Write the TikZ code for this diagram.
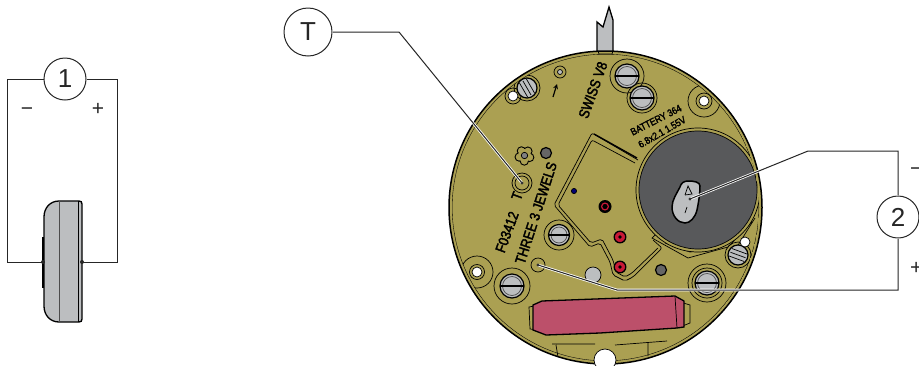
\documentclass[tikz,border=0pt]{standalone}
\usepackage{fontspec}
\setmainfont{Liberation Sans}
\newfontfamily\engravefont[FakeStretch=0.86,FakeBold=2.5]{Liberation Sans}
\definecolor{plateolive}{RGB}{171,160,82}
\definecolor{cellgray}{RGB}{188,190,192}
\definecolor{batterygray}{RGB}{88,89,91}
\definecolor{coilred}{RGB}{188,80,106}
\definecolor{rubyred}{RGB}{200,25,55}
\begin{document}
\begin{tikzpicture}[x=1pt,y=-1pt]

%
% Styles
%
\tikzstyle{callout}  = [circle,draw=black!85,fill=white,line width=1pt,minimum size=42pt,inner sep=0pt,text=black!85,font=\fontsize{26}{26}\selectfont]
\tikzstyle{wire}     = [draw=black!85,line width=1pt]
\tikzstyle{leader}   = [preaction={draw=white,line width=2.6pt},draw=black!85,line width=1pt]
\tikzstyle{sign}     = [inner sep=0pt,font=\fontsize{21}{21}\selectfont,text=black!85]
\tikzstyle{engraved} = [inner sep=0pt,font=\engravefont\fontsize{14.5}{14.5}\selectfont,text=black]
\tikzstyle{tinytext} = [inner sep=0pt,font=\engravefont\fontsize{10}{10}\selectfont,text=black]
\tikzstyle{contour}  = [draw=black,line width=0.7pt]
\tikzstyle{bodyline} = [draw=black,line width=1.3pt]

\useasboundingbox (0,0) rectangle (919,365);

%
% Cell on the left
%
\filldraw[fill=cellgray,bodyline] (59,201) -- (79,201) .. controls (81,201) and (82,202) .. (82,204) -- (82,319)
  .. controls (82,321) and (81,322) .. (79,322) -- (59,322) .. controls (50,322) and (44,315) .. (44,306)
  -- (44,217) .. controls (44,208) and (50,201) .. (59,201) -- cycle;
\draw[contour,draw=black!70] (59,201) -- (59,322);
\draw[contour] (78,201) -- (78,322);
\draw[bodyline] (43,237) -- (43,288);
\coordinate (cellneg) at (43,262);
\coordinate (cellpos) at (82,262);
\fill[black!85] (cellneg) circle (2pt) (cellpos) circle (2pt);

\node[callout] (one) at (65,79) {1};
\draw[wire] (one.west) -- ++(-36,0) |- (cellneg);
\draw[wire] (one.east) -- ++(31,0) |- (cellpos);
\node[sign] (cellminus) at (27,112) {−};
\node[sign] (cellplus) at (98,109) {+};

%
% Stem and plate
%
\filldraw[fill=cellgray,bodyline] (597,52) -- (597,22) -- (603,27) -- (609,7) -- (613,20) -- (613,52) -- cycle;
\filldraw[fill=plateolive,draw=black,line width=1.5pt] (605.5,207.5) circle (156.5pt);
\draw[contour] (598,51) -- (599,54) -- (612,54) -- (613,51);

\begin{scope}
\clip (605.5,207.5) circle (153.5pt);
\draw[contour] (605.5,207.5) circle (153.5pt);

%
% Bridge and battery seat
%
\draw[contour,rounded corners=2pt] (638,160) -- (592,133) -- (554,205) -- (590,247) -- (600,243) -- (610,262) -- (613,275)
  -- (625,281) -- (633,277) -- (662,248) -- (653,240);
\draw[contour,rounded corners=2pt] (635,163) -- (592,140) -- (558,205) -- (591,243) -- (602,239) -- (613,260) -- (616,272)
  -- (625,277) -- (632,273) -- (658,248);
\draw[line width=1.4pt] (594,134) -- (637,158);
\filldraw[fill=plateolive,contour] (652,238) -- (688,258) -- (728,247) -- (752,222) -- (700,190) -- cycle;
\draw[contour] (665,243) -- (690,252) -- (717,247) -- (745,222);
\draw[contour] (755,218) -- (730,258);
\filldraw[fill=plateolive,contour] (698,190) circle (62pt);
\filldraw[fill=batterygray,contour] (698,190) circle (59pt);
\filldraw[fill=cellgray,draw=black,line width=1.5pt] (688,181) .. controls (694,181) and (700,182) .. (700,186)
  .. controls (700,195) and (698,205) .. (697,210) .. controls (695,218) and (690,223) .. (685,223)
  .. controls (678,223) and (672,216) .. (672,207) .. controls (672,200) and (677,193) .. (680,187)
  .. controls (681,183) and (684,181) .. (688,181) -- cycle;
\draw[contour] (685,195) -- (688,186) -- (692,194) -- (685,195) (687,207) -- (685,213);

%
% Rings round the screws and holes
%
\foreach \px/\py/\pr in {627/76/17, 642/98/15, 527/88/13, 513/96/8, 559/235/15, 512/286/18, 707/283/19, 707/283/15, 738/255/13, 704/101/16, 477/272/16} {
  \draw[contour] (\px,\py) circle (\pr pt);
}
\end{scope}

%
% Screws, x y angle of the slot and radius
%
\foreach \px/\py/\pa/\pr in {627/76/0/12, 642/98/0/12, 559/235/0/10.5, 512/286/0/12, 707/283/0/12} {
  \filldraw[fill=cellgray,line width=1.2pt,draw=black] (\px,\py) circle (\pr pt);
  \draw[contour,draw=black!70] (\px,\py) circle (\pr pt-2.5pt);
  \draw[line width=2.6pt,rotate around={\pa:(\px,\py)}] (\px-\pr,\py) -- (\px+\pr,\py);
}
\foreach \px/\py/\pa in {527/88/-60, 738/255/-20} {
  \filldraw[fill=cellgray,line width=1.2pt,draw=black] (\px,\py) circle (10pt);
  \foreach \po in {-4,0,4} {
    \draw[contour,rotate around={\pa:(\px,\py)}] (\px-8,\py+\po) -- (\px+8,\py+\po);
  }
}

%
% Holes
%
\foreach \px/\py/\pr in {704/101/5, 513/96/5, 477/272/5, 745/242/5} {
  \filldraw[fill=white,contour] (\px,\py) circle (\pr pt);
}
\draw[contour] (704,101) circle (8pt) (477,272) circle (7.5pt);
\draw[contour] (560,72) circle (6pt);
\filldraw[fill=cellgray,contour] (560,72) circle (2.5pt);
\draw[contour] (522,183) circle (10pt) (522,183) circle (7pt);
\draw[contour] (538,265) circle (7pt);
\filldraw[fill=cellgray,contour] (593,275) circle (8pt);

%
% Dots and jewels
%
\foreach \px/\py in {546/153, 661/270} {
  \filldraw[fill=black!60,line width=1.2pt,draw=black] (\px,\py) circle (5.5pt);
}
\fill[black] (605,206.5) circle (6.5pt);
\draw[rubyred,line width=1.2pt] (605,206.5) circle (3.4pt);
\foreach \px/\py in {620/237, 620/267} {
  \filldraw[fill=rubyred,line width=1.3pt,draw=black] (\px,\py) circle (5.8pt);
  \fill[black] (\px,\py) circle (1.8pt);
}
\filldraw[fill=blue!45!black,contour] (574,191) circle (2.6pt);

% Flower mark
\foreach \pa in {0,72,...,288} {
  \draw[line width=0.9pt] (524.5,155.5) ++(\pa+20:5.5) circle (4.2pt);
}
\fill[plateolive] (524.5,155.5) circle (6.5pt);
\filldraw[fill=black!50,contour] (524.5,155.5) circle (3.2pt);

% Arrow mark
\draw[line width=1.2pt,-stealth] (553,97) -- (557,84);

%
% Coil block and bottom edge
%
\filldraw[fill=plateolive,contour] (529,307) -- (540,305) -- (540,330) -- (530,329) -- cycle;
\filldraw[fill=plateolive,contour] (680,302) -- (690,305) -- (690,323) -- (680,327) -- cycle;
\filldraw[fill=coilred,bodyline] (533,305) -- (542,301) -- (675,296) -- (684,301) -- (684,327) -- (677,328) -- (600,333) -- (546,335) -- (533,330) -- cycle;
\draw[contour] (675,296) -- (677,328);
\draw[contour] (552,344) -- (595,344) (615,345) -- (667,341) (648,342) -- (648,356) (556,345) -- (558,357);
\filldraw[fill=white,contour] (605,360) circle (11pt);

%
% Engraved text
%
\node[engraved,rotate=70] (swiss) at (593,90) {SWISS V8};
\node[engraved,rotate=70] (frame) at (507,232) {F03412};
\node[engraved,rotate=70] (tmark) at (517,196) {T};
\node[engraved,rotate=72] (jewels) at (536,213) {THREE 3 JEWELS};
\node[tinytext,rotate=27] (battery) at (656,120) {BATTERY 364};
\node[tinytext,rotate=30] (size) at (662,132) {6.8x2.1 1.55V};

%
% Callouts
%
\node[callout,minimum size=48pt] (tee) at (308,32) {T};
\coordinate (teehole) at (522,183);
\draw[leader] (tee.east) -- (399,32) -- (teehole);

\node[callout] (two) at (898,217) {2};
\coordinate (knob) at (690,199);
\coordinate (pillar) at (538,265);
\draw[leader] (two.north) |- (808,151) -- (knob);
\draw[leader] (two.south) |- (617,290) -- (pillar);
\fill[black!80] (knob) circle (1.6pt) (pillar) circle (1.6pt) (teehole) circle (1.6pt);
\node[sign,anchor=west] (movminus) at (910,172) {−};
\node[sign,anchor=west] (movplus) at (910,268) {+};

\end{tikzpicture}
\end{document}
